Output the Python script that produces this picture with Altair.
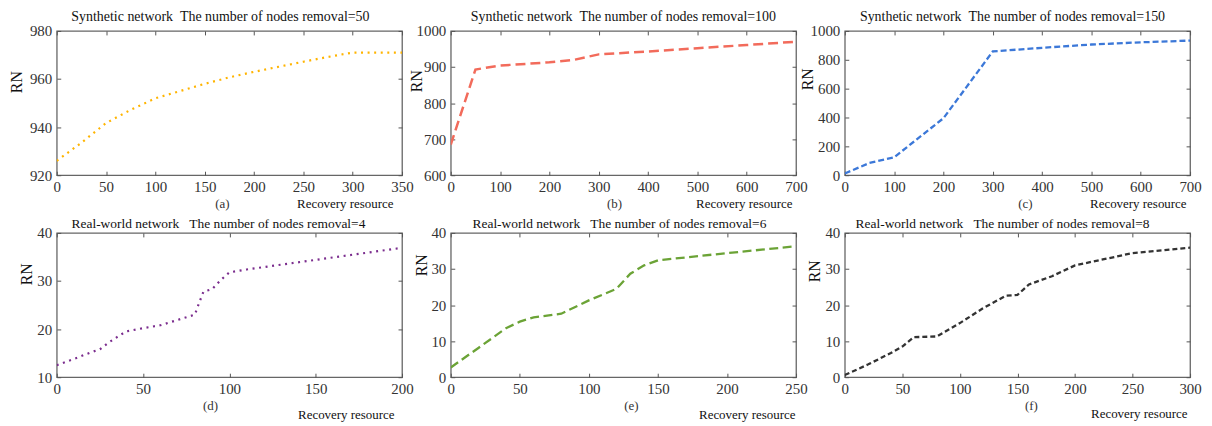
import altair as alt
import pandas as pd

FONT = "Liberation Serif"
W, H = 347, 145

# ---- data ----
a_x = [0, 25, 50, 75, 100, 125, 150, 175, 200, 225, 250, 275, 300, 325, 350]
a_y = [926, 933.5, 941.7, 947.2, 952, 955, 958, 960.7, 963, 965.1, 967.2, 969.2, 971, 971, 971]

b_x = [0, 50, 100, 200, 250, 300, 400, 500, 600, 700]
b_y = [685, 893, 904, 913, 920, 935, 943, 952, 961, 970]

c_x = [0, 50, 100, 200, 300, 400, 500, 600, 700]
c_y = [12, 85, 124, 395, 858, 883, 906, 921, 933]

d_x = [0, 10, 20, 25, 30, 40, 50, 60, 70, 80, 82, 85, 90, 95, 100, 110, 150, 200]
d_y = [12.5, 13.8, 15.2, 15.8, 17.2, 19.5, 20.2, 20.8, 21.9, 23.0, 25.0, 27.8, 28.3, 30.2, 31.8, 32.4, 34.4, 36.9]

e_x = [0, 20, 40, 50, 60, 80, 100, 120, 130, 140, 150, 200, 250]
e_y = [2.7, 8.1, 13.6, 15.4, 16.6, 17.6, 21.3, 24.5, 28.7, 31.0, 32.4, 34.4, 36.3]

f_x = [0, 20, 40, 50, 60, 80, 100, 120, 140, 150, 160, 180, 200, 250, 300]
f_y = [0.6, 3.5, 6.7, 8.5, 11.1, 11.3, 15.0, 19.1, 22.6, 22.8, 25.7, 28.0, 31.0, 34.4, 35.9]

titles = [
    "Synthetic network\u00a0\u00a0The number of nodes removal=50",
    "Synthetic network\u00a0\u00a0The number of nodes removal=100",
    "Synthetic network\u00a0\u00a0The number of nodes removal=150",
    "Real-world network\u00a0\u00a0\u00a0The number of nodes removal=4",
    "Real-world network\u00a0\u00a0\u00a0The number of nodes removal=6",
    "Real-world network\u00a0\u00a0\u00a0The number of nodes removal=8",
]
letters = ["(a)", "(b)", "(c)", "(d)", "(e)", "(f)"]
xlabel = "Recovery resource"
ylabel = "RN"


def panel(xs, ys, xdom, xticks, ydom, yticks, color, dash, sw, title, tsize, tdx, tdy,
          letter, lx, ly, rx, ry, rnx, rny):
    df = pd.DataFrame({"x": xs, "y": ys})
    xsc = alt.Scale(domain=xdom, nice=False, zero=False)
    ysc = alt.Scale(domain=ydom, nice=False, zero=False)
    base = alt.Chart(df)
    common = dict(grid=False, domain=False, labelFlush=False, labelOverlap=False,
                  minExtent=0, maxExtent=400)
    line = base.mark_line(color=color, strokeDash=dash, strokeWidth=sw, clip=True).encode(
        x=alt.X("x:Q", scale=xsc, axis=alt.Axis(
            orient="bottom", values=xticks, ticks=False, tickSize=0, format="d",
            labelFont=FONT, labelFontSize=15, labelColor="#333", labelPadding=4,
            title=letter, titleX=lx, titleY=ly, titleAlign="center", titleBaseline="middle",
            titleFont=FONT, titleFontSize=13, titleFontWeight="normal", titleColor="#333",
            **common)),
        y=alt.Y("y:Q", scale=ysc, axis=alt.Axis(
            orient="left", values=yticks, ticks=False, tickSize=0, format="d",
            labelFont=FONT, labelFontSize=15, labelColor="#333", labelPadding=5,
            title=ylabel, titleX=rnx, titleY=rny, titleAngle=270, titleAlign="center",
            titleBaseline="middle", titleFont=FONT, titleFontSize=16,
            titleFontWeight="normal", titleColor="#111",
            **common)),
    )
    t1 = base.mark_line(strokeOpacity=0).encode(
        x=alt.X("x:Q", scale=xsc, axis=alt.Axis(
            orient="bottom", offset=-4, values=xticks, ticks=True, tickSize=4,
            tickColor="#555", tickWidth=1, labels=False,
            title=xlabel, titleX=rx, titleY=ry + 4, titleAlign="right", titleBaseline="middle",
            titleFont=FONT, titleFontSize=13, titleFontWeight="normal", titleColor="#111",
            **common)),
        y=alt.Y("y:Q", scale=ysc, axis=alt.Axis(
            orient="left", offset=-4, values=yticks, ticks=True, tickSize=4,
            tickColor="#555", tickWidth=1, labels=False, title=None, **common)),
    )
    t2 = base.mark_line(strokeOpacity=0).encode(
        x=alt.X("x:Q", scale=xsc, axis=alt.Axis(
            orient="top", offset=-4, values=xticks, ticks=True, tickSize=4,
            tickColor="#555", tickWidth=1, labels=False, title=None, **common)),
        y=alt.Y("y:Q", scale=ysc, axis=alt.Axis(
            orient="right", offset=-4, values=yticks, ticks=True, tickSize=4,
            tickColor="#555", tickWidth=1, labels=False, title=None, **common)),
    )
    return alt.layer(line, t1, t2).resolve_axis(
        x="independent", y="independent"
    ).properties(
        width=W, height=H,
        title=alt.TitleParams(title, font=FONT, fontSize=tsize, fontWeight="normal",
                              color="#111", anchor="middle", frame="group",
                              baseline="alphabetic", offset=0, dx=tdx, dy=tdy),
    )


pa = panel(a_x, a_y, [0, 350], list(range(0, 351, 50)), [920, 980], [920, 940, 960, 980],
           "#FFB400", [2, 4.6], 2.2, titles[0], 14, -9, 11, letters[0], 166, 28, 338, 28, -40, 51)
pb = panel(b_x, b_y, [0, 700], list(range(0, 701, 100)), [600, 1000], list(range(600, 1001, 100)),
           "#F26B5B", [10, 5], 2.5, titles[1], 14, 0, 11, letters[1], 164, 28, 343, 28, -34, 50)
pc = panel(c_x, c_y, [0, 700], list(range(0, 701, 100)), [0, 1000], list(range(0, 1001, 200)),
           "#3C78D8", [6, 3], 2.3, titles[2], 14, -5, 11, letters[2], 181, 28, 343, 28, -37, 48)
pd_ = panel(d_x, d_y, [0, 200], list(range(0, 201, 50)), [10, 40], [10, 20, 30, 40],
            "#7B2D8E", [2, 4.6], 2.2, titles[3], 13.5, -11, 16, letters[3], 154, 28, 339, 38, -30, 41)
pe = panel(e_x, e_y, [0, 250], list(range(0, 251, 50)), [0, 40], [0, 10, 20, 30, 40],
           "#6BA336", [9, 4.5], 2.3, titles[4], 13.5, -4, 16, letters[4], 181, 28, 346, 38, -29, 32)
pf = panel(f_x, f_y, [0, 300], list(range(0, 301, 50)), [0, 40], [0, 10, 20, 30, 40],
           "#333333", [5, 3], 2.3, titles[5], 13.5, -15, 16, letters[5], 187, 28, 344, 37, -30, 38)

chart = alt.concat(
    pa, pb, pc, pd_, pe, pf, columns=3,
    spacing=alt.RowColnumber(row=58, column=49), bounds="flush",
).configure_view(
    stroke="#666", strokeWidth=1.3
).configure_axis(
    labelFont=FONT, titleFont=FONT
).configure_title(
    font=FONT
).properties(
    padding={"left": 0, "top": 0, "right": 2, "bottom": 2}, background="white"
)

chart.save("out.html", embed_options={"renderer": "svg", "actions": False})
